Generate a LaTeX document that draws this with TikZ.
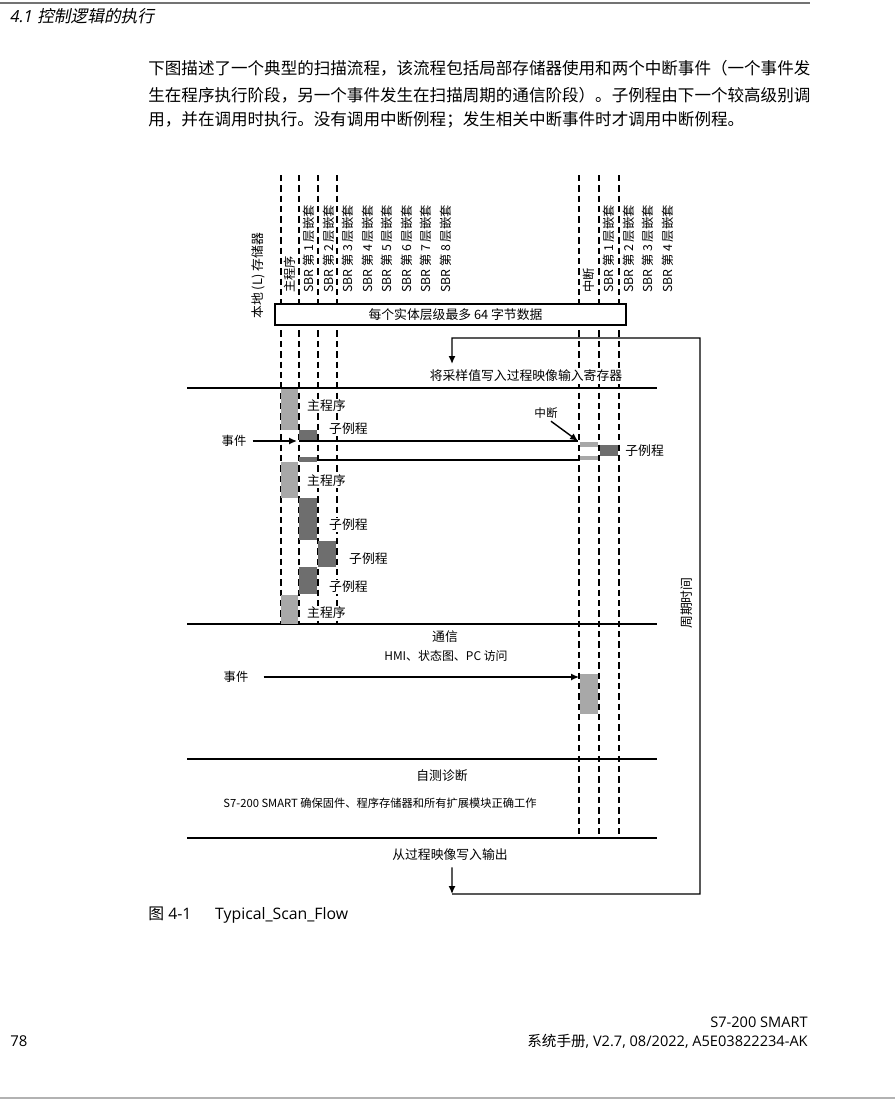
\documentclass[tikz,border=0pt]{standalone}
\usepackage{fontspec}
\setmainfont{Open Sans}
\newfontfamily\cjk{Noto Sans CJK SC}
\newfontfamily\cjksl[FakeSlant=0.2]{Noto Sans CJK SC}
\usetikzlibrary{arrows.meta, positioning, calc}

\definecolor{mainfill}{gray}{0.66}
\definecolor{subfill}{gray}{0.43}

\tikzset{
  lbl/.style={font=\cjk\fontsize{7.3}{8}\selectfont, inner sep=0pt},
  vlbl/.style={lbl, font=\cjk\fontsize{7}{8}\selectfont, rotate=90, anchor=west},
  blklbl/.style={lbl, anchor=west, fill=white, inner sep=0.5pt},
  para/.style={font=\cjk\fontsize{9.42}{11}\selectfont, inner sep=0pt, anchor=west},
  lane/.style={dash pattern=on 3.6pt off 2.3pt, line width=0.7pt},
  sepline/.style={line width=0.85pt},
  flow/.style={line width=0.8pt, -{Latex[length=4.5pt,width=4pt]}},
  mainblk/.style={fill=mainfill},
  subblk/.style={fill=subfill},
}

\begin{document}
\begin{tikzpicture}[x=0.02cm, y=-0.02cm]
\useasboundingbox (0,0) rectangle (895,1100);

% page header and intro
\draw[line width=1pt, black!55] (0,3) -- (810,3);
\node[anchor=west, inner sep=0pt, font=\fontsize{9.5}{11}\selectfont] (hdr) at (10,16) {\itshape 4.1 \cjksl 控制逻辑的执行};
\node[para] (para1) at (148,68) {下图描述了一个典型的扫描流程，该流程包括局部存储器使用和两个中断事件（一个事件发};
\node[para] (para2) at (148,95) {生在程序执行阶段，另一个事件发生在扫描周期的通信阶段）。子例程由下一个较高级别调};
\node[para] (para3) at (148,120) {用，并在调用时执行。没有调用中断例程；发生相关中断事件时才调用中断例程。};

% nesting lanes
\foreach \x in {281,299,318,337} \draw[lane] (\x,175) -- (\x,624);
\foreach \x in {579,599,619} \draw[lane] (\x,175) -- (\x,835);

\node[vlbl, font=\cjk\fontsize{7.3}{8}\selectfont] (lmem) at (258,319) {本地 (L) 存储器};
\node[vlbl] (mainlbl) at (290,293) {主程序};
\foreach \i in {1,...,8}
  \node[vlbl] (sbr\i) at ({289.5+19.5*\i},293) {SBR 第 \i\ 层嵌套};
\node[vlbl] (intlbl) at (589,293) {中断};
\foreach \i in {1,...,4}
  \node[vlbl] (isbr\i) at ({589.5+19.5*\i},293) {SBR 第 \i\ 层嵌套};

\node[lbl, draw, fill=white, line width=0.9pt, minimum width=7.02cm, minimum height=0.42cm] (lmemdata) at (450.5,314.5) {\hspace{0.2cm}每个实体层级最多 64 字节数据};

% phase separators
\foreach \y in {388,624,759,838} \draw[sepline] (187,\y) -- (657,\y);

% read inputs
\node[lbl, fill=white, inner sep=1pt] (readin) at (526,376) {将采样值写入过程映像输入寄存器};

% program execution
\fill[mainblk] (281,389) rectangle (298,430);
\node[blklbl] (main1) at (306,406) {主程序};
\fill[subblk] (299,430) rectangle (317,441);
\node[blklbl] (sub1) at (328,429) {子例程};
\coordinate (l1s) at (299,441);
\coordinate (l1e) at (578,441);
\coordinate (l2s) at (299,460);
\coordinate (l2e) at (578,460);
\draw[line width=0.9pt] (l1s) -- (l1e);
\draw[line width=0.9pt] (l2s) -- (l2e);
\node[lbl, font=\cjk\fontsize{7}{8}\selectfont] (ev1) at (234,441) {事件};
\draw[flow] (ev1.east) ++(6,0) -- ([xshift=-0.04cm]l1s);
\node[lbl, font=\cjk\fontsize{6.6}{8}\selectfont] (intr) at (546,413) {中断};
\draw[flow] ([xshift=0.1cm,yshift=-0.05cm]intr.south) -- (l1e);
\fill[mainblk] (580,442) rectangle (598,447);
\fill[mainblk] (580,456) rectangle (598,460);
\fill[subblk] (600,445) rectangle (618,456);
\node[lbl, anchor=west] (isub) at (625,451) {子例程};
\fill[subblk] (299,457) rectangle (317,462);
\fill[mainblk] (281,462) rectangle (298,498);
\node[blklbl] (main2) at (306,481) {主程序};
\fill[subblk] (299,498) rectangle (317,540);
\node[blklbl] (sub2) at (328,525) {子例程};
\fill[subblk] (318,541) rectangle (336,567);
\node[blklbl] (sub3) at (348,559) {子例程};
\fill[subblk] (299,567) rectangle (317,594);
\node[blklbl] (sub4) at (328,587) {子例程};
\fill[mainblk] (281,595) rectangle (298,624);
\node[blklbl] (main3) at (306,613) {主程序};

% communication
\node[lbl] (comm) at (445,637) {通信};
\node[lbl, font=\cjk\fontsize{6.8}{8}\selectfont] (hmi) at (446,656) {HMI、状态图、PC 访问};
\node[lbl, font=\cjk\fontsize{7}{8}\selectfont] (ev2) at (236,677) {事件};
\fill[mainblk] (580,674) rectangle (598,714);
\coordinate (intb) at (579,677);
\draw[flow] ([xshift=0.3cm]ev2.east) -- (intb);

% self test
\node[lbl] (diag) at (442,776) {自测诊断};
\node[lbl, font=\cjk\fontsize{6.4}{8}\selectfont] (diagtxt) at (380,803) {S7-200 SMART 确保固件、程序存储器和所有扩展模块正确工作};

% write outputs and cycle
\node[lbl] (wout) at (450,855) {从过程映像写入输出};
\coordinate (loopS) at (452,894);
\coordinate (loopR) at (700,894);
\coordinate (loopT) at (452,338);
\draw[flow] ([xshift=0.04cm,yshift=-0.12cm]wout.south) -- (loopS);
\draw[flow] (loopS) -- (loopR) |- (loopT) -- ([xshift=-1.48cm,yshift=0.08cm]readin.north);
\node[lbl, rotate=90] (cyc) at (687,603) {周期时间};

% caption and footer
\node[anchor=west, inner sep=0pt, font=\fontsize{9}{11}\selectfont] (cap) at (148,915) {{\cjk 图} 4-1\hspace{1.5em}Typical\_Scan\_Flow};
\node[anchor=east, inner sep=0pt, font=\fontsize{8.3}{10}\selectfont] (ft1) at (808,1022) {S7-200 SMART};
\node[anchor=east, inner sep=0pt, font=\fontsize{8.3}{10}\selectfont] (ft2) at (808,1041) {{\cjk 系统手册}, V2.7, 08/2022, A5E03822234-AK};
\node[anchor=west, inner sep=0pt, font=\fontsize{8.5}{10}\selectfont] (pg) at (10,1041) {78};
\draw[line width=1pt, black!30] (0,1098) -- (895,1098);
\end{tikzpicture}
\end{document}
